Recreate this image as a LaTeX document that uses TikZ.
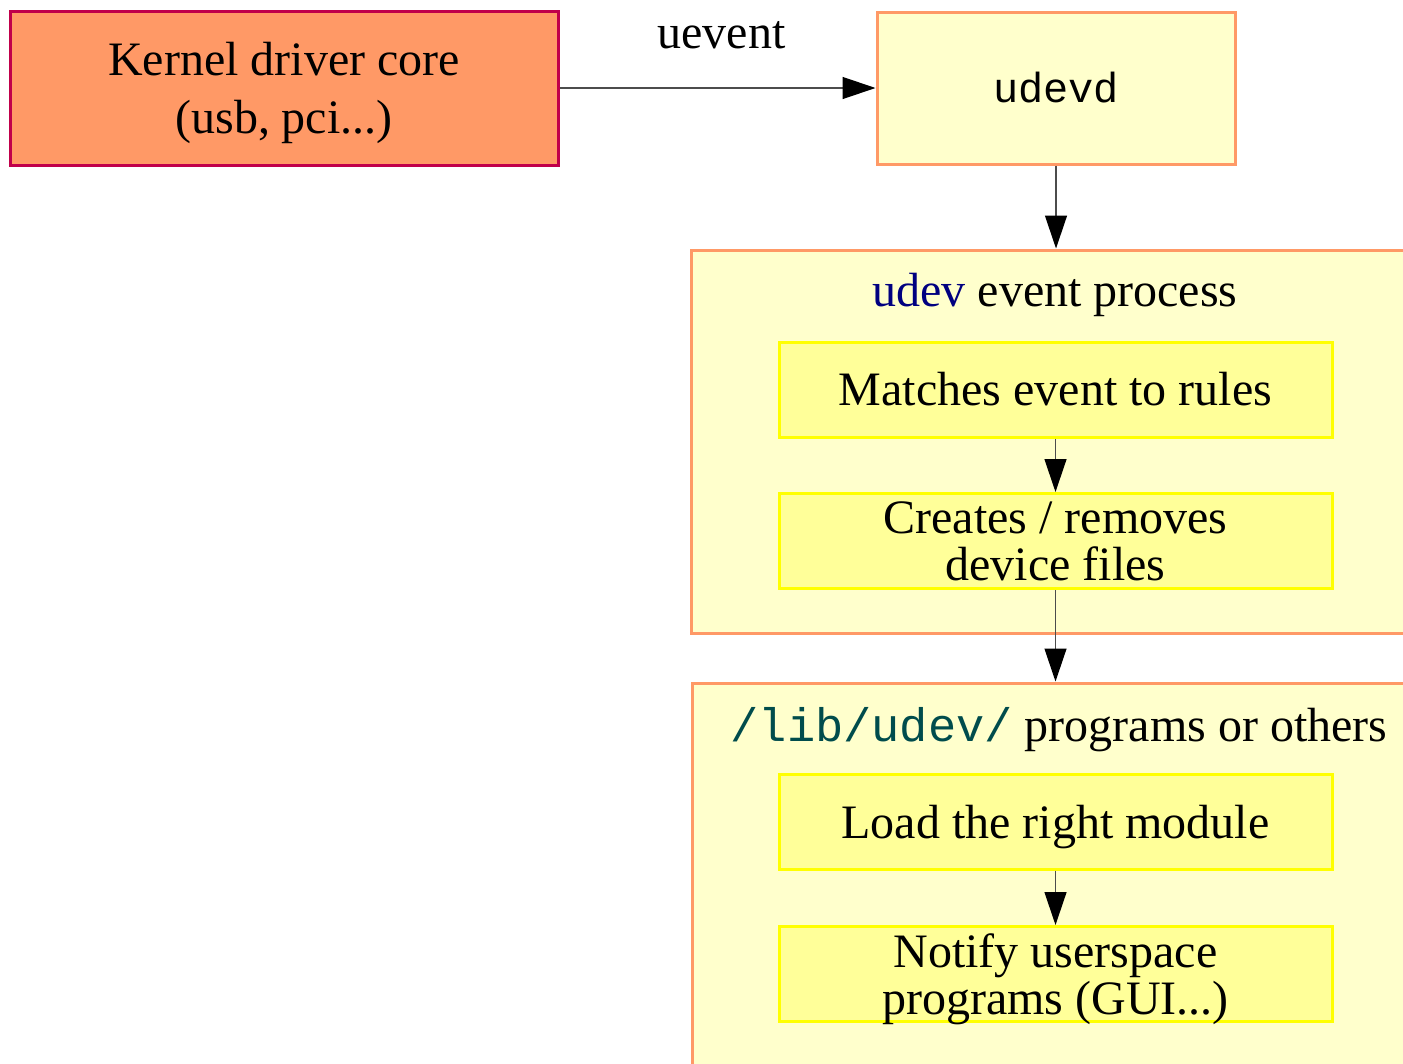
\documentclass[tikz,border=0pt]{standalone}
\usepackage{fontspec}
\setmainfont{Liberation Serif}
\setmonofont{Liberation Mono}
\usetikzlibrary{arrows.meta}
\definecolor{kfill}{HTML}{FF9966}
\definecolor{kborder}{HTML}{C0004A}
\definecolor{pale}{HTML}{FFFFCC}
\definecolor{orangeb}{HTML}{FF9966}
\definecolor{innerfill}{HTML}{FFFF99}
\definecolor{innerb}{HTML}{FFFF00}
\definecolor{udevblue}{HTML}{000080}
\definecolor{libteal}{HTML}{004C4C}
\tikzset{
  kbox/.style={draw=kborder, fill=kfill, line width=3pt, minimum width=548pt, minimum height=154pt, inner sep=0pt, align=center, text depth=0pt, font=\fontsize{48}{58}\selectfont},
  dbox/.style={draw=orangeb, fill=pale, line width=3pt, minimum width=358pt, minimum height=152pt, inner sep=0pt, font=\ttfamily\fontsize{42}{50}\selectfont},
  grpbox/.style={draw=orangeb, fill=pale, line width=3pt, inner sep=0pt},
  innerbox/.style={draw=innerb, fill=innerfill, line width=3pt, minimum width=553pt, minimum height=95pt, inner sep=0pt, align=center, font=\fontsize{48}{47}\selectfont},
  titletext/.style={inner sep=0pt, anchor=base, font=\fontsize{48}{58}\selectfont},
  conn/.style={draw=black!70, line width=1.3pt, -{Triangle[length=33pt,width=22pt,fill=black,color=black]}},
}
\begin{document}
\begin{tikzpicture}[x=1pt,y=-1pt]
\useasboundingbox (0,0) rectangle (1403,1063);
\clip (0,0) rectangle (1403,1063);
% group containers
\node[grpbox, minimum width=729pt, minimum height=383pt] (grp1) at (1055.5,441.5) {};
\node[grpbox, minimum width=728pt, minimum height=400pt] (grp2) at (1056,883) {};
% top boxes
\node[kbox] (kernel) at (284,88) {Kernel driver core\\(usb, pci...)};
\node[dbox] (udevd) at (1056,88) {udevd};
% titles
\node[titletext] (t1) at (1055,306) {\textcolor{udevblue}{udev} event process};
\node[titletext] (t2) at (1059,741) {\textcolor{libteal}{\ttfamily\fontsize{47}{58}\selectfont /lib/udev/} programs or others};
% inner boxes
\node[innerbox] (b1) at (1055.5,389.5) {Matches event to rules};
\node[innerbox] (b2) at (1055.5,541) {Creates / removes\\device files};
\node[innerbox, text depth=0pt] (b3) at (1055.5,821.5) {Load the right module};
\node[innerbox, text depth=0pt] (b4) at (1055.5,974) {Notify userspace\\programs (GUI...)};
% connectors
\draw[conn] (kernel.east) -- node[midway, anchor=base, yshift=40pt, xshift=4pt, inner sep=0pt, font=\fontsize{48}{58}\selectfont] (lbl) {uevent} (udevd.west);
\draw[conn] (udevd.south) -- (udevd.south |- grp1.north);
\draw[conn] (b1.south) -- (b2.north);
\draw[conn] (b2.south) -- (b2.south |- grp2.north);
\draw[conn] (b3.south) -- (b4.north);
\end{tikzpicture}
\end{document}
